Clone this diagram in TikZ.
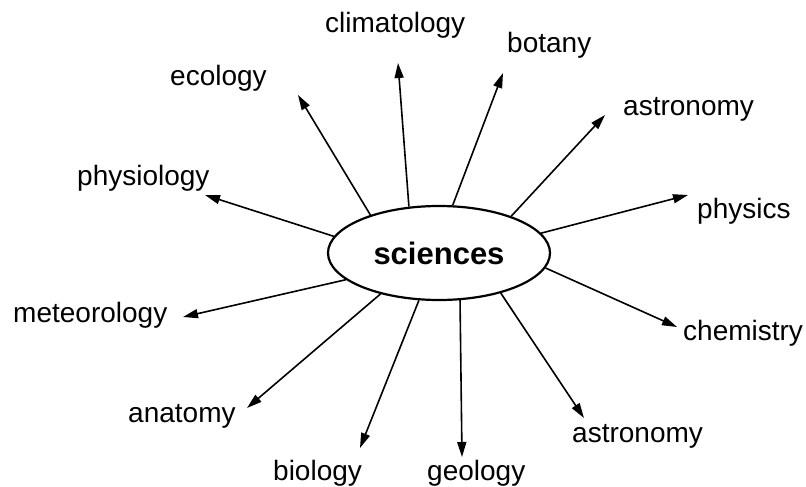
\documentclass[tikz,border=0pt]{standalone}
\usepackage{fontspec}
\setmainfont{Liberation Sans}
\usetikzlibrary{arrows.meta,shapes.geometric}
\begin{document}
\begin{tikzpicture}[x=1pt,y=-1pt,
 lbl/.style={anchor=base west,inner sep=0pt,font=\fontsize{28}{31}\selectfont},
 arr/.style={line width=1.6pt,-{Triangle[length=15pt,width=9pt]}}]
\useasboundingbox[fill=white] (0,0) rectangle (806,487);
\node[ellipse,draw,line width=2.2pt,minimum width=222pt,minimum height=94pt,inner sep=0pt,font=\fontsize{31}{34}\selectfont\bfseries] (sci) at (439,253) {sciences};
% labels
\node[lbl] (climatology) at (325,33) {climatology};
\node[lbl] (botany) at (507,53) {botany};
\node[lbl] (ecology) at (170,85) {ecology};
\node[lbl] (astroA) at (623,115) {astronomy};
\node[lbl] (physiology) at (77,185) {physiology};
\node[lbl] (physics) at (697,218) {physics};
\node[lbl] (meteorology) at (13,322) {meteorology};
\node[lbl] (chemistry) at (683,340) {chemistry};
\node[lbl] (anatomy) at (128,422) {anatomy};
\node[lbl] (astroB) at (572,442) {astronomy};
\node[lbl] (biology) at (273,480) {biology};
\node[lbl] (geology) at (427,480) {geology};
% arrow tips
\coordinate (tEco) at (298,95);
\coordinate (tCli) at (398,63);
\coordinate (tPhy) at (205,195);
\coordinate (tBot) at (503,73);
\coordinate (tAstA) at (605,115);
\coordinate (tPhs) at (688,195);
\coordinate (tMet) at (183,317);
\coordinate (tAna) at (247,408);
\coordinate (tBio) at (360,448);
\coordinate (tGeo) at (462,457);
\coordinate (tAstB) at (584,418);
\coordinate (tChe) at (677,327);
% arrows
\draw[arr] (sci.151.8) -- (tEco);
\draw[arr] (sci.123.1) -- (tCli);
\draw[arr] (sci.171.9) -- (tPhy);
\draw[arr] (sci.74.8) -- (tBot);
\draw[arr] (sci.27.2) -- (tAstA);
\draw[arr] (sci.11.0) -- (tPhs);
\draw[arr] (sci.196.6) -- (tMet);
\draw[arr] (sci.215.8) -- (tAna);
\draw[arr] (sci.247.2) -- (tBio);
\draw[arr] (sci.294.7) -- (tGeo);
\draw[arr] (sci.327.1) -- (tAstB);
\draw[arr] (sci.352.3) -- (tChe);
\end{tikzpicture}
\end{document}
